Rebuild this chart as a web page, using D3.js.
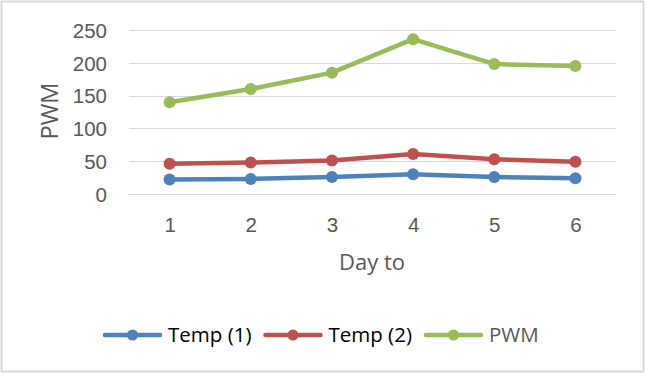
<!doctype html>
<html>
<head>
<meta charset="utf-8">
<script src="https://cdn.jsdelivr.net/npm/d3@7"></script>
<style>
  body { margin: 0; background: #fff; }
  svg { display: block; font-family: "Open Sans", sans-serif; }
  .grid line { stroke: #d9d9d9; stroke-width: 1.5; shape-rendering: crispEdges; }
  .axis text { fill: #595959; font-size: 20.5px; }
</style>
</head>
<body>
<svg width="646" height="375"></svg>
<script>
var days = ["1", "2", "3", "4", "5", "6"];
var temp1 = [22, 23, 26, 30, 26, 24];
var temp2 = [46, 48, 51, 61, 53, 49];
var pwm = [140, 160, 185, 236, 198, 195];
var yTicks = [0, 50, 100, 150, 200, 250];

var series = [
  {name: "Temp (1)", values: temp1, color: "#4f81bd", text: "#000"},
  {name: "Temp (2)", values: temp2, color: "#c0504d", text: "#000"},
  {name: "PWM", values: pwm, color: "#9bbb59", text: "#595959"}
];

var svg = d3.select("svg");

// outer frame
svg.append("rect")
  .attr("x", 1.5).attr("y", 1.5)
  .attr("width", 642).attr("height", 370)
  .attr("fill", "none").attr("stroke", "#d9d9d9").attr("stroke-width", 2);

var x = d3.scalePoint().domain(days).range([129, 616]).padding(0.5);
var y = d3.scaleLinear().domain([0, 250]).range([194, 30]);

// gridlines
svg.append("g").attr("class", "grid")
  .selectAll("line").data(yTicks).enter().append("line")
  .attr("x1", 129).attr("x2", 616)
  .attr("y1", function(d) { return Math.round(y(d)) + 0.5; })
  .attr("y2", function(d) { return Math.round(y(d)) + 0.5; });

var yAxis = svg.append("g").attr("class", "axis")
  .attr("transform", "translate(129,0)")
  .call(d3.axisLeft(y).tickValues(yTicks).tickSize(0).tickPadding(22));
yAxis.select(".domain").remove();
yAxis.selectAll("text").attr("dy", "0.36em");

var xAxis = svg.append("g").attr("class", "axis")
  .attr("transform", "translate(0,194)")
  .call(d3.axisBottom(x).tickSize(0).tickPadding(23));
xAxis.select(".domain").remove();

// axis titles
svg.append("text")
  .attr("transform", "translate(58,111) rotate(-90)")
  .attr("text-anchor", "middle")
  .attr("fill", "#595959").attr("font-size", "23.5px")
  .text("PWM");

svg.append("text")
  .attr("x", 372).attr("y", 270)
  .attr("text-anchor", "middle")
  .attr("fill", "#595959").attr("font-size", "22px")
  .text("Day to");

// lines + markers
var line = d3.line()
  .x(function(d, i) { return x(days[i]); })
  .y(function(d) { return y(d); });

series.forEach(function(s) {
  var g = svg.append("g");
  g.append("path")
    .attr("d", line(s.values))
    .attr("fill", "none")
    .attr("stroke", s.color)
    .attr("stroke-width", 4.5)
    .attr("stroke-linejoin", "round");
  g.selectAll("circle").data(s.values).enter().append("circle")
    .attr("cx", function(d, i) { return x(days[i]); })
    .attr("cy", function(d) { return y(d); })
    .attr("r", 6)
    .attr("fill", s.color);
});

// legend
var lx = 105, ly = 335;
series.forEach(function(s) {
  var g = svg.append("g");
  g.append("line")
    .attr("x1", lx).attr("x2", lx + 55)
    .attr("y1", ly).attr("y2", ly)
    .attr("stroke", s.color).attr("stroke-width", 4.5)
    .attr("stroke-linecap", "round");
  g.append("circle")
    .attr("cx", lx + 27.5).attr("cy", ly).attr("r", 5.5)
    .attr("fill", s.color);
  var t = g.append("text")
    .attr("x", lx + 63).attr("y", ly + 7)
    .attr("fill", s.text).attr("font-size", "20.5px")
    .text(s.name);
  lx += 63 + t.node().getComputedTextLength() + 14;
});
</script>
</body>
</html>
